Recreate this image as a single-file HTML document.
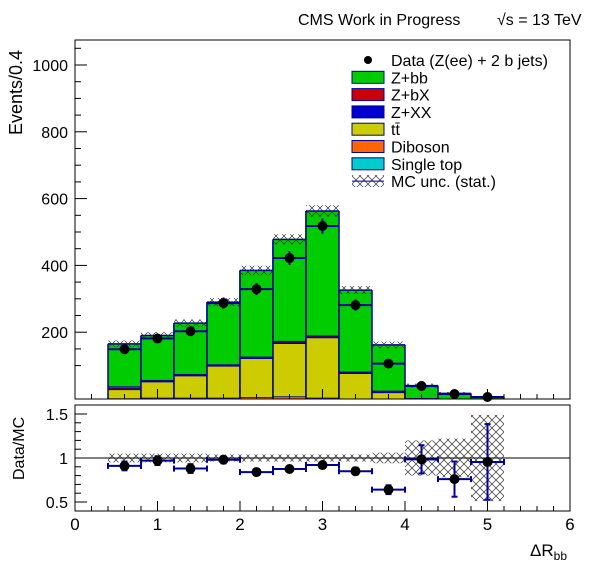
<!DOCTYPE html>
<html><head><meta charset="utf-8"><style>
body{margin:0;background:#fff}
text{font-family:"Liberation Sans",sans-serif}
</style></head><body>
<svg id="c" width="596" height="572" xmlns="http://www.w3.org/2000/svg">
<defs>
<pattern id="hatch" width="8" height="8" patternUnits="userSpaceOnUse">
<path d="M0,0L8,8M8,0L0,8" stroke="#333" stroke-width="0.7" fill="none"/>
</pattern>
</defs>
<text x="298" y="25" font-size="16">CMS Work in Progress</text>
<text x="497" y="25" font-size="16">√s = 13 TeV</text>
<g id="main"></g>
<g id="ratio"></g>
<text transform="translate(22,135) rotate(-90)" font-size="18">Events/0.4</text>
<text transform="translate(24,480) rotate(-90)" font-size="16">Data/MC</text>
<text x="530" y="556" font-size="17">ΔR<tspan font-size="12" dy="4">bb</tspan></text>
<g id="legend"></g>
</svg>
<script>
const binCenters=[0.6,1.0,1.4,1.8,2.2,2.6,3.0,3.4,3.8,4.2,4.6,5.0];
const total=[165,190,227,290,385,478,563,326,162,40,17,5];
const singletop=[1,1,1,1,1,1,1,0,0,0,0,0];
const diboson=[1,3,3,3,5,7,3,1,0,0,0,0];
const ttbar=[27,48,66,95,116,159,180,76,20,2,0,0];
const zxx=[3,3,3,3,3,3,3,3,3,1,0,0];
const zbx=[6,2,2,2,2,4,3,2,2,0,0,0];
const dataVals=[149,181,203,287,329,422,518,281,106,39,15,6];
const mcUnc=[10,10,11,12,14,15,17,12,10,6,4,3];
const ratioVals=[0.91,0.97,0.88,0.98,0.84,0.875,0.92,0.85,0.64,0.985,0.76,0.955];
const ratioErr=[0.05,0.05,0.05,0.04,0.03,0.03,0.03,0.04,0.05,0.16,0.2,0.43];
const ratioBand=[0.05,0.05,0.05,0.04,0.04,0.04,0.04,0.04,0.06,0.2,0.22,0.49];
const yTicks=[200,400,600,800,1000];
const rTicks=[0.5,1,1.5];
const xTicks=[0,1,2,3,4,5,6];
const W=0.4;
const NS="http://www.w3.org/2000/svg";
const X=v=>75+v*(570-75)/6;
const Y=v=>399-v*0.334;
const R=v=>458-(v-1)*88;
function mk(p,t,a){const e=document.createElementNS(NS,t);for(const k in a)e.setAttribute(k,a[k]);p.appendChild(e);return e;}
const main=document.getElementById('main'), ratio=document.getElementById('ratio');
const comps=[[singletop,'#00cccc'],[diboson,'#ff6600'],[ttbar,'#cccc00'],[zxx,'#0000cc'],[zbx,'#cc0000']];
binCenters.forEach((c,i)=>{
  let base=0;
  const zbb=total[i]-singletop[i]-diboson[i]-ttbar[i]-zxx[i]-zbx[i];
  const all=[...comps,[[...Array(12)].map((_,j)=>j===i?zbb:0),'#00cc00']];
  all.forEach(([arr,col],k)=>{
    const v=arr[i]; if(v<=0)return;
    const r=mk(main,'rect',{x:X(c-W/2),y:Y(base+v),width:X(W)-X(0),height:Y(base)-Y(base+v),fill:col});
    
    
    base+=v;
    mk(main,'line',{x1:X(c-W/2),x2:X(c+W/2),y1:Y(base),y2:Y(base),stroke:'#000099','stroke-width':1.5});
  });
  mk(main,'line',{x1:X(c-W/2),x2:X(c-W/2),y1:Y(0),y2:Y(total[i]),stroke:'#000099','stroke-width':1.5});
  mk(main,'line',{x1:X(c+W/2),x2:X(c+W/2),y1:Y(0),y2:Y(Math.max(total[i],i<11?total[i+1]:0)),stroke:'#000099','stroke-width':1.5});
  const u=mk(main,'rect',{x:X(c-W/2),y:Y(total[i]+mcUnc[i]),width:X(W)-X(0),height:Y(total[i]-mcUnc[i])-Y(total[i]+mcUnc[i]),fill:'url(#hatch)'});
  
  
});
binCenters.forEach((c,i)=>{
  const e=Math.sqrt(dataVals[i]);
  mk(main,'line',{x1:X(c-W/2),x2:X(c+W/2),y1:Y(dataVals[i]),y2:Y(dataVals[i]),stroke:'#000099','stroke-width':2});
  mk(main,'line',{x1:X(c),x2:X(c),y1:Y(dataVals[i]+e),y2:Y(Math.max(0,dataVals[i]-e)),stroke:'#000099','stroke-width':2});
  const p=mk(main,'circle',{cx:X(c),cy:Y(dataVals[i]),r:5,fill:'#000'});
  
  
});
mk(main,'rect',{x:75,y:40,width:495,height:359,fill:'none',stroke:'#000','stroke-width':1});
for(let v=100;v<=1050;v+=50){const L=v%200===0?12:6;mk(main,'line',{x1:75,x2:75+L,y1:Y(v),y2:Y(v),stroke:'#000'});}
yTicks.forEach(v=>{const t=mk(main,'text',{x:68,y:Y(v)+6,'font-size':16,'text-anchor':'end'});t.textContent=v;});
for(let v=0;v<=6.001;v+=0.2){const L=Math.abs(v-Math.round(v))<0.01?10:5;mk(main,'line',{x1:X(v),x2:X(v),y1:399,y2:399-L,stroke:'#000'});}
binCenters.forEach((c,i)=>{
  const b=mk(ratio,'rect',{x:X(c-W/2),y:R(1+ratioBand[i]),width:X(W)-X(0),height:R(1-ratioBand[i])-R(1+ratioBand[i]),fill:'url(#hatch)'});
  
  
});
mk(ratio,'line',{x1:75,x2:570,y1:R(1),y2:R(1),stroke:'#000'});
binCenters.forEach((c,i)=>{
  const st={stroke:'#000099','stroke-width':2};
  mk(ratio,'line',{x1:X(c-W/2),x2:X(c+W/2),y1:R(ratioVals[i]),y2:R(ratioVals[i]),...st});
  mk(ratio,'line',{x1:X(c-W/2),x2:X(c-W/2),y1:R(ratioVals[i])-3,y2:R(ratioVals[i])+3,...st});
  mk(ratio,'line',{x1:X(c+W/2),x2:X(c+W/2),y1:R(ratioVals[i])-3,y2:R(ratioVals[i])+3,...st});
  const t=R(ratioVals[i]+ratioErr[i]), b=R(ratioVals[i]-ratioErr[i]);
  mk(ratio,'line',{x1:X(c),x2:X(c),y1:t,y2:b,...st});
  mk(ratio,'line',{x1:X(c)-3,x2:X(c)+3,y1:t,y2:t,...st});
  mk(ratio,'line',{x1:X(c)-3,x2:X(c)+3,y1:b,y2:b,...st});
  const p=mk(ratio,'circle',{cx:X(c),cy:R(ratioVals[i]),r:5,fill:'#000'});
  
  
});
mk(ratio,'rect',{x:75,y:405,width:495,height:106,fill:'none',stroke:'#000'});
for(let v=0.5;v<=1.55;v+=0.1){const L=Math.abs(v*2-Math.round(v*2))<0.01?12:6;mk(ratio,'line',{x1:75,x2:75+L,y1:R(v),y2:R(v),stroke:'#000'});}
rTicks.forEach(v=>{const t=mk(ratio,'text',{x:68,y:R(v)+6,'font-size':16,'text-anchor':'end'});t.textContent=v;});
for(let v=0;v<=6.001;v+=0.2){const L=Math.abs(v-Math.round(v))<0.01?10:5;mk(ratio,'line',{x1:X(v),x2:X(v),y1:511,y2:511-L,stroke:'#000'});}
xTicks.forEach(v=>{const t=mk(ratio,'text',{x:X(v),y:530,'font-size':17,'text-anchor':'middle'});t.textContent=v;});
const lg=document.getElementById('legend');
const entries=[['Data (Z(ee) + 2 b jets)','data'],['Z+bb','#00cc00'],['Z+bX','#cc0000'],['Z+XX','#0000cc'],['tt̄','#cccc00'],['Diboson','#ff6600'],['Single top','#00cccc'],['MC unc. (stat.)','hatch']];
entries.forEach(([lab,col],i)=>{
  const cy=60+i*17.3;
  if(col==='data'){mk(lg,'circle',{cx:368,cy:cy,r:4,fill:'#000'});}
  else if(col==='hatch'){mk(lg,'rect',{x:352,y:cy-6,width:32,height:12,fill:'url(#hatch)'});mk(lg,'line',{x1:352,x2:384,y1:cy,y2:cy,stroke:'#000099'});}
  else mk(lg,'rect',{x:352,y:cy-6,width:32,height:12,fill:col,stroke:'#000099','stroke-width':1});
  const t=mk(lg,'text',{x:391,y:cy+6,'font-size':16});t.textContent=lab;
  
  
});
</script>
</body></html>
